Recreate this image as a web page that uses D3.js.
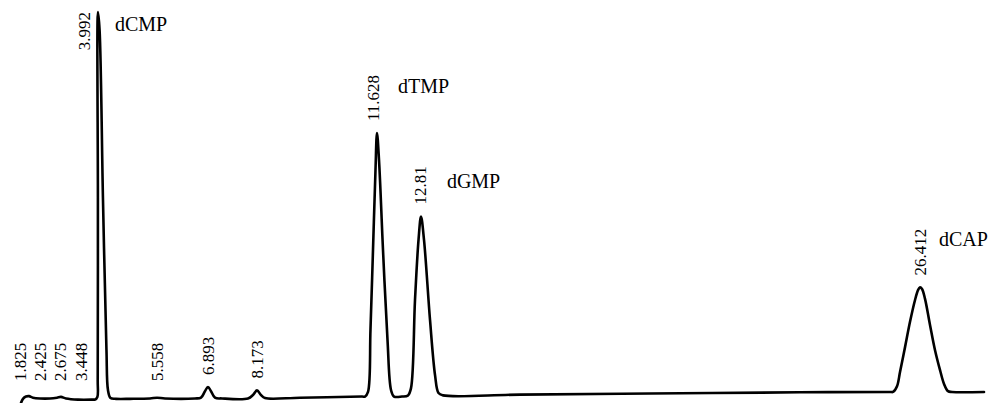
<!DOCTYPE html>
<html>
<head>
<meta charset="utf-8">
<script src="https://cdn.jsdelivr.net/npm/d3@7"></script>
<style>
  html, body { margin: 0; padding: 0; background: #fff; }
  svg { display: block; }
  text { font-family: "Liberation Serif", "DejaVu Serif", serif; fill: #000; }
</style>
</head>
<body>
<svg id="chart" width="997" height="403"></svg>
<script>
// ---- Data: chromatogram trace (retention time in min, detector signal in arbitrary units) ----
const traceTime = [
  1.890, 1.944, 2.026, 2.108, 2.217, 2.409, 2.682, 2.873, 2.982, 3.119, 3.446, 3.883,
  3.910, 3.975, 3.985, 3.990, 3.992, 4.036, 4.129, 4.224, 4.265, 4.334, 4.484,
  4.870, 5.412, 5.604, 5.822, 6.641, 6.805, 6.914, 6.996, 7.078, 7.187, 7.379,
  8.089, 8.225, 8.334, 8.443, 8.553, 9.509, 11.202,
  11.284, 11.366, 11.433, 11.502, 11.570, 11.611, 11.666, 11.775, 11.898, 11.994, 12.076,
  12.294, 12.458, 12.540, 12.649, 12.745, 12.813, 12.895, 13.059, 13.196, 13.291, 13.414,
  15.516, 19.066, 23.162, 25.620,
  25.702, 25.811, 25.893, 26.030, 26.166, 26.303, 26.385, 26.439, 26.494, 26.576, 26.712,
  26.849, 26.986, 27.095, 27.204, 27.313, 28.187
];
const traceSignal = [
  -2.1, -1.0, -0.4, -0.3, -0.7, -0.9, -0.9, -0.7, -0.5, -0.9, -1.2, -1.2,
  -1.2, -0.5, 4.0, 50.9, 100.0, 95.3, 50.9, 11.7, 1.3, -0.8, -1.0,
  -1.0, -0.9, -0.7, -0.9, -0.9, -0.7, 1.0, 2.1, 1.0, -0.7, -0.9,
  -0.9, 0.0, 1.2, 0.0, -0.8, -0.7, -0.4,
  -0.4, 0.8, 17.0, 37.9, 58.7, 68.4, 61.4, 37.9, 14.4, 1.3, -0.4,
  -0.4, -0.1, 1.8, 24.8, 40.5, 46.6, 40.5, 19.6, 5.2, 0.5, -0.1,
  0.1, 0.4, 0.7, 0.8,
  0.8, 2.3, 6.0, 12.5, 19.1, 24.8, 27.4, 28.1, 27.7, 25.1, 18.3,
  11.7, 6.5, 2.9, 1.0, 0.8, 0.8
];

// Peak retention-time labels and the signal at each labelled apex
const peakRT     = [1.825, 2.425, 2.675, 3.448, 3.992, 5.558, 6.893, 8.173, 11.628, 12.81, 26.412];
const peakLabels = ["1.825", "2.425", "2.675", "3.448", "3.992", "5.558", "6.893", "8.173", "11.628", "12.81", "26.412"];
const peakHeight = [-0.3, -0.9, -0.5, -1.2, 100.0, -0.7, 2.1, 1.2, 68.4, 46.6, 28.1];

// Compound names for the identified peaks
const compoundNames = ["dCMP", "dTMP", "dGMP", "dCAP"];
const compoundRT    = [3.992, 11.628, 12.81, 26.412];

// ---- Layout (positions only, not data) ----
const W = 997, H = 403;
const labelShift = [1.4, -0.6, 10.2, 3.0, -14, 1.7, 3.8, 6.0, -4.6, -1.0, 1.0]; // px nudges to avoid crowding
const smallLabelBottom = 381;
const nameLayout = [[17, 31], [20.5, 93], [26, 188], [20, 246]]; // [dx from peak, baseline y]

const svg = d3.select("#chart");

const x = d3.scaleLinear().domain([1.8, 28.2]).range([17.7, 984.5]);
const y = d3.scaleLinear().domain([0, 100]).range([395, 12]);

const pts = traceTime.map((t, i) => [t, traceSignal[i]]);

const line = d3.line()
  .x(d => x(d[0]))
  .y(d => y(d[1]))
  .curve(d3.curveCatmullRom.alpha(0.5));

svg.append("path")
  .datum(pts)
  .attr("d", line)
  .attr("fill", "none")
  .attr("stroke", "#000")
  .attr("stroke-width", 2.6)
  .attr("stroke-linejoin", "round")
  .attr("stroke-linecap", "round");

// Retention time labels (rotated)
const numSize = 17;
peakLabels.forEach((lab, i) => {
  const cx = x(peakRT[i]) + labelShift[i];
  const apexY = y(peakHeight[i]);
  let bottom = Math.min(smallLabelBottom, apexY - 12);
  const t = svg.append("text")
    .attr("font-size", numSize)
    .attr("dy", "0.35em")
    .text(lab);
  const len = t.node().getComputedTextLength();
  let anchor = "start";
  let py = bottom;
  if (bottom - len < 4) { anchor = "end"; py = 12; }
  t.attr("text-anchor", anchor)
   .attr("transform", `translate(${cx},${py}) rotate(-90)`);
});

// Compound names
const nameSize = 20;
compoundNames.forEach((nm, i) => {
  svg.append("text")
    .attr("x", x(compoundRT[i]) + nameLayout[i][0])
    .attr("y", nameLayout[i][1])
    .attr("font-size", nameSize)
    .text(nm);
});
</script>
</body>
</html>
